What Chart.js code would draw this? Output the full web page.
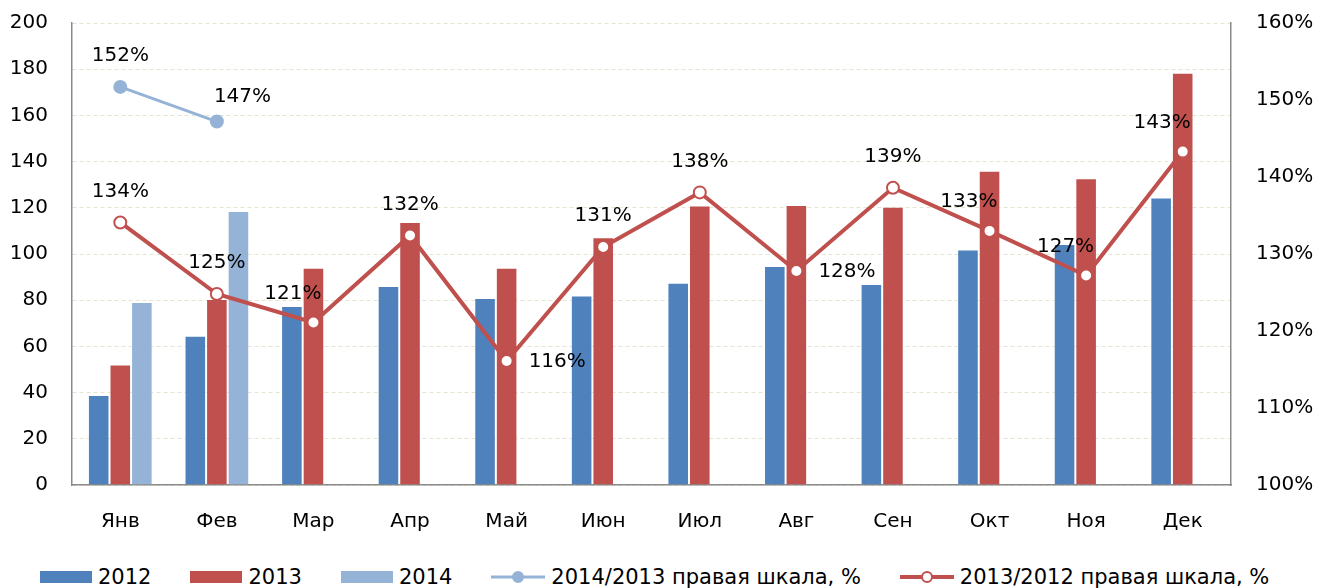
<!DOCTYPE html>
<html>
<head>
<meta charset="utf-8">
<script src="https://cdn.jsdelivr.net/npm/chart.js@4"></script>
<style>
  body { margin: 0; background: #fff; font-family: "DejaVu Sans", Verdana, sans-serif; }
  #wrap { position: relative; width: 1333px; height: 588px; }
  #box { position: absolute; left: 0; top: 0; width: 1333px; height: 548px; }
  #legend { position: absolute; left: 40px; top: 563px; height: 28px; display: flex; align-items: center; gap: 39px; font-size: 21px; color: #000; white-space: nowrap; }
  .item { display: flex; align-items: center; gap: 6px; }
  .bar { width: 52px; height: 12px; }
  .line { position: relative; width: 54px; height: 14px; }
  .line i { position: absolute; left: 0; right: 0; top: 50%; transform: translateY(-50%); }
  .line b { position: absolute; left: 50%; top: 50%; width: 12px; height: 12px; border-radius: 50%; transform: translate(-50%, -50%); box-sizing: border-box; }
</style>
</head>
<body>
<div id="wrap">
  <div id="box"><canvas id="chart"></canvas></div>
  <div id="legend"></div>
</div>
<script>
/* ---- data ---- */
const months = ["Янв", "Фев", "Мар", "Апр", "Май", "Июн", "Июл", "Авг", "Сен", "Окт", "Ноя", "Дек"];
const v2012  = [39, 64.6, 77.5, 86.1, 81, 82, 87.6, 94.8, 87, 102, 104.3, 124.5];
const v2013  = [52.2, 80.5, 94, 113.9, 94, 107.2, 121, 121.2, 120.5, 136, 132.8, 178.5];
const v2014  = [79.2, 118.6, null, null, null, null, null, null, null, null, null, null];
const r14_13 = [151.7, 147.2, null, null, null, null, null, null, null, null, null, null]; // %
const r13_12 = [134.1, 124.8, 121.1, 132.4, 116.1, 130.9, 138.0, 127.8, 138.6, 133.0, 127.2, 143.3]; // %

// where each % label sits relative to its marker
const pos14_13 = ["top", "topRight"];
const pos13_12 = ["top", "top", "topLeft", "top", "right", "top", "top", "right", "top", "topLeft", "topLeft", "topLeft"];

const C2012 = "#4F81BD", C2013 = "#C0504D", C2014 = "#95B3D7";
const FONT = "'DejaVu Sans', Verdana, sans-serif";
const AXIS = "#8a8a8a";

const pctLabels = {
  id: "pctLabels",
  afterDatasetsDraw(chart) {
    const ctx = chart.ctx;
    ctx.save();
    ctx.font = "20px " + FONT;
    ctx.fillStyle = "#000";
    ctx.textBaseline = "middle";
    chart.data.datasets.forEach((ds, di) => {
      if (!ds.labelPos) return;
      chart.getDatasetMeta(di).data.forEach((pt, i) => {
        const v = ds.data[i];
        if (v == null) return;
        const txt = Math.round(v) + "%";
        const p = ds.labelPos[i];
        let x = pt.x, y = pt.y;
        if (p === "top")      { ctx.textAlign = "center"; y -= 31; }
        if (p === "topLeft")  { ctx.textAlign = "right";  x += 8;  y -= 29; }
        if (p === "topRight") { ctx.textAlign = "left";   x -= 3;  y -= 25; }
        if (p === "right")    { ctx.textAlign = "left";   x += 22; y += 1; }
        ctx.fillText(txt, x, y);
      });
    });
    ctx.restore();
  }
};

const barDs = (label, data, color) => ({
  type: "bar", label, data, yAxisID: "y", order: 2,
  backgroundColor: color, borderColor: "rgba(255,255,255,0.25)", borderWidth: 1,
  categoryPercentage: 0.67, barPercentage: 1.0
});

new Chart(document.getElementById("chart"), {
  data: {
    labels: months,
    datasets: [
      barDs("2012", v2012, C2012),
      barDs("2013", v2013, C2013),
      barDs("2014", v2014, C2014),
      {
        type: "line", label: "2014/2013 правая шкала, %", data: r14_13, yAxisID: "y1", order: 0,
        borderColor: C2014, borderWidth: 3, pointRadius: 7, pointBackgroundColor: C2014,
        pointBorderColor: C2014, pointBorderWidth: 0, spanGaps: false, labelPos: pos14_13
      },
      {
        type: "line", label: "2013/2012 правая шкала, %", data: r13_12, yAxisID: "y1", order: 0,
        borderColor: C2013, borderWidth: 4, pointRadius: 6, pointBackgroundColor: "#fff",
        pointBorderColor: C2013, pointBorderWidth: 2, labelPos: pos13_12
      }
    ]
  },
  options: {
    responsive: true,
    maintainAspectRatio: false,
    animation: false,
    layout: { padding: { top: 23, left: 0, right: 0, bottom: 0 } },
    plugins: { legend: { display: false }, tooltip: { enabled: false } },
    scales: {
      x: {
        grid: { display: false, drawTicks: true, tickLength: 8 },
        border: { display: true, color: AXIS, width: 1.5 },
        ticks: { color: "#000", font: { family: FONT, size: 20 }, padding: 17 },
        afterFit: s => { s.height = 63; }
      },
      y: {
        position: "left", min: 0, max: 200,
        // label gap made with an invisible tick mark: ticks.padding would also pad the top
        ticks: { stepSize: 20, color: "#000", font: { family: FONT, size: 20 }, padding: 0 },
        grid: { color: "#e4e4d0", lineWidth: 1, drawTicks: true, tickLength: 24, tickColor: "rgba(0,0,0,0)" },
        border: { display: true, color: AXIS, width: 1.5, dash: [4, 3] },
        afterFit: s => { s.width = 72; }
      },
      y1: {
        position: "right", min: 100, max: 160,
        ticks: { stepSize: 10, color: "#000", font: { family: FONT, size: 20 }, padding: 0,
                 callback: v => v + "%" },
        grid: { display: false, drawTicks: true, tickLength: 25 },
        border: { display: true, color: AXIS, width: 1.5 },
        afterFit: s => { s.width = 102; }
      }
    }
  },
  plugins: [pctLabels]
});

// legend under the chart
const legendItems = [
  { kind: "bar", color: C2012, text: "2012" },
  { kind: "bar", color: C2013, text: "2013" },
  { kind: "bar", color: C2014, text: "2014" },
  { kind: "line", color: C2014, fill: C2014, w: 3, text: "2014/2013 правая шкала, %" },
  { kind: "line", color: C2013, fill: "#fff", w: 4, text: "2013/2012 правая шкала, %" }
];
const legendEl = document.getElementById("legend");
legendItems.forEach(it => {
  const d = document.createElement("div");
  d.className = "item";
  const sw = it.kind === "bar"
    ? `<span class="bar" style="background:${it.color}"></span>`
    : `<span class="line"><i style="height:${it.w}px;background:${it.color}"></i>` +
      `<b style="background:${it.fill};border:2px solid ${it.color}"></b></span>`;
  d.innerHTML = sw + `<span>${it.text}</span>`;
  legendEl.appendChild(d);
});
</script>
</body>
</html>
